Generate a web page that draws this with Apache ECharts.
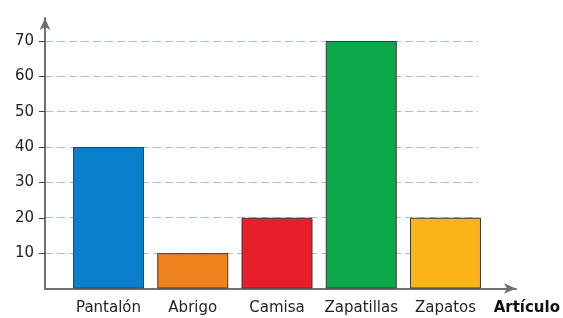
<!DOCTYPE html>
<html>
<head>
<meta charset="utf-8">
<script src="https://cdn.jsdelivr.net/npm/echarts@6/dist/echarts.min.js"></script>
<style>html,body{margin:0;padding:0;background:#fff}#c{width:563px;height:318px}</style>
</head>
<body>
<div id="c"></div>
<script>
const categories = ['Pantalón', 'Abrigo', 'Camisa', 'Zapatillas', 'Zapatos'];
const values = [40, 10, 20, 70, 20];
const barColors = ['#0a7fcc', '#f0821e', '#e81e2a', '#0ba84a', '#f8b418'];
const yTicks = [10, 20, 30, 40, 50, 60, 70];
const xAxisName = 'Artículo';

const chart = echarts.init(document.getElementById('c'));
const font = '"DejaVu Sans", "Open Sans", sans-serif';
chart.setOption({
  animation: false,
  grid: [
    { left: 45, right: 47, top: 18, bottom: 29.5 },
    { left: 45, right: 85, top: 41, bottom: 65 }
  ],
  xAxis: [
    {
      type: 'value', gridIndex: 0, min: -0.754, max: 4.837,
      splitLine: { show: false },
      axisLine: { show: true, onZero: false, lineStyle: { color: '#707070', width: 2 }, symbol: ['none', 'arrow'], symbolSize: [8, 12] },
      axisTick: { show: false },
      axisLabel: {
        customValues: categories.map((_, i) => i),
        formatter: v => categories[Math.round(v)] || '',
        color: '#222', fontSize: 15, fontFamily: font, margin: 12
      },
      name: xAxisName, nameLocation: 'end', nameGap: 44,
      nameTextStyle: { color: '#111', fontSize: 15, fontWeight: 'bold', fontFamily: font, align: 'right', verticalAlign: 'top', padding: [12, 0, 0, 0] }
    },
    { type: 'value', gridIndex: 1, min: 0, max: 1, show: false }
  ],
  yAxis: [
    {
      type: 'value', gridIndex: 0, min: 0, max: 76.5,
      splitLine: { show: false },
      axisLine: { show: true, onZero: false, lineStyle: { color: '#707070', width: 2 }, symbol: ['none', 'arrow'], symbolSize: [8, 12] },
      axisTick: { show: true, customValues: yTicks, length: 6, lineStyle: { color: '#444', width: 1 } },
      axisLabel: { customValues: yTicks, color: '#222', fontSize: 15, fontFamily: font, margin: 11 }
    },
    {
      type: 'value', gridIndex: 1, min: 10, max: 70, interval: 10,
      axisLine: { show: false }, axisTick: { show: false }, axisLabel: { show: false },
      splitLine: { show: true, lineStyle: { color: '#9ec6d4', type: [8, 4], width: 1 } }
    }
  ],
  series: [{
    type: 'bar', xAxisIndex: 0, yAxisIndex: 0, barWidth: 71, z: 5,
    data: values.map((v, i) => ({ value: [i, v], itemStyle: { color: barColors[i], borderColor: '#3a3a3a', borderWidth: 1 } }))
  }]
});
</script>
</body>
</html>
